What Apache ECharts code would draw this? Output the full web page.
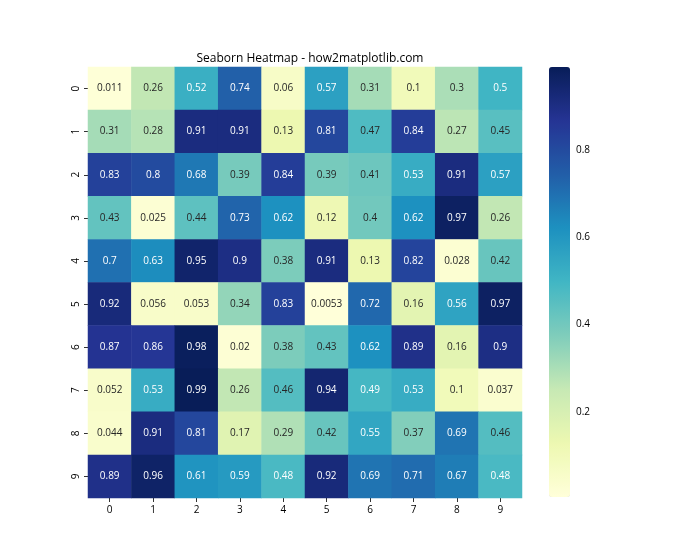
<!DOCTYPE html>
<html><head><meta charset="utf-8">
<script src="https://cdn.jsdelivr.net/npm/echarts@6/dist/echarts.min.js"></script>
<style>html,body{margin:0;padding:0;background:#fff}#c{width:700px;height:560px}</style>
</head><body><div id="c"></div>
<script>
const xLabels = ['0','1','2','3','4','5','6','7','8','9'];
const yLabels = ['0','1','2','3','4','5','6','7','8','9'];
const row0 = [0.011,0.26,0.52,0.74,0.06,0.57,0.31,0.1,0.3,0.5];
const row1 = [0.31,0.28,0.91,0.91,0.13,0.81,0.47,0.84,0.27,0.45];
const row2 = [0.83,0.8,0.68,0.39,0.84,0.39,0.41,0.53,0.91,0.57];
const row3 = [0.43,0.025,0.44,0.73,0.62,0.12,0.4,0.62,0.97,0.26];
const row4 = [0.7,0.63,0.95,0.9,0.38,0.91,0.13,0.82,0.028,0.42];
const row5 = [0.92,0.056,0.053,0.34,0.83,0.0053,0.72,0.16,0.56,0.97];
const row6 = [0.87,0.86,0.98,0.02,0.38,0.43,0.62,0.89,0.16,0.9];
const row7 = [0.052,0.53,0.99,0.26,0.46,0.94,0.49,0.53,0.1,0.037];
const row8 = [0.044,0.91,0.81,0.17,0.29,0.42,0.55,0.37,0.69,0.46];
const row9 = [0.89,0.96,0.61,0.59,0.48,0.92,0.69,0.71,0.67,0.48];
const rows = [row0,row1,row2,row3,row4,row5,row6,row7,row8,row9];
const colorbarTicks = [0.2,0.4,0.6,0.8];
const vMin = 0.0053, vMax = 0.99;

const cmap = ['#ffffd9','#edf8b1','#c7e9b4','#7fcdbb','#41b6c4','#1d91c0','#225ea8','#253494','#081d58'];
function hex2rgb(h){return [1,3,5].map(i=>parseInt(h.substr(i,2),16)/255);}
function colorAt(v){
  let t=(v-vMin)/(vMax-vMin); t=Math.max(0,Math.min(1,t));
  const p=t*(cmap.length-1); const i=Math.min(Math.floor(p),cmap.length-2); const f=p-i;
  const a=hex2rgb(cmap[i]), b=hex2rgb(cmap[i+1]);
  return a.map((x,k)=>x+(b[k]-x)*f);
}
function lum(rgb){
  const c=rgb.map(x=>x<=0.03928?x/12.92:Math.pow((x+0.055)/1.055,2.4));
  return 0.2126*c[0]+0.7152*c[1]+0.0722*c[2];
}
const data=[];
rows.forEach((r,yi)=>r.forEach((v,xi)=>{
  const dark = lum(colorAt(v))>0.408;
  data.push({value:[xi,yi,v],label:{color:dark?'#262626':'#ffffff'}});
}));

const FONT='"Open Sans", "Noto Sans", sans-serif';
const chart=echarts.init(document.getElementById('c'),null,{renderer:'canvas'});
chart.setOption({
  animation:false,
  backgroundColor:'#fff',
  title:{text:'Seaborn Heatmap - how2matplotlib.com',left:305,top:48,textAlign:'center',
    textStyle:{fontFamily:FONT,fontSize:12,fontWeight:'normal',color:'#000'}},
  grid:[
    {left:88,top:67,width:434,height:431},
    {left:549,top:67,width:21,height:430}
  ],
  xAxis:[
    {type:'category',data:xLabels,gridIndex:0,axisLine:{show:false},
      axisTick:{show:true,alignWithLabel:true,length:4,lineStyle:{color:'#333'}},
      axisLabel:{fontFamily:FONT,fontSize:10,color:'#000',margin:7},splitLine:{show:false}},
    {type:'value',gridIndex:1,show:false,min:0,max:1}
  ],
  yAxis:[
    {type:'category',data:yLabels,inverse:true,gridIndex:0,axisLine:{show:false},
      axisTick:{show:true,alignWithLabel:true,length:4,lineStyle:{color:'#333'}},
      axisLabel:{fontFamily:FONT,fontSize:10,color:'#000',rotate:90,margin:7},splitLine:{show:false}},
    {type:'value',gridIndex:1,position:'right',min:vMin,max:vMax,
      axisLine:{show:false},splitLine:{show:false},
      axisTick:{show:true,length:4,customValues:colorbarTicks,lineStyle:{color:'#333'}},
      axisLabel:{fontFamily:FONT,fontSize:10,color:'#000',margin:6,customValues:colorbarTicks,
        formatter:v=>String(Math.round(v*10)/10)}}
  ],
  visualMap:{type:'continuous',min:vMin,max:vMax,seriesIndex:0,calculable:false,
    orient:'vertical',left:549,top:67,itemWidth:21,itemHeight:430,padding:0,
    text:null,showLabel:false,
    inRange:{color:cmap}},
  series:[{type:'heatmap',xAxisIndex:0,yAxisIndex:0,data:data,
    label:{show:true,fontFamily:FONT,fontSize:10,formatter:p=>String(p.value[2])},
    itemStyle:{borderWidth:0},
    emphasis:{disabled:true}}]
});
</script></body></html>
